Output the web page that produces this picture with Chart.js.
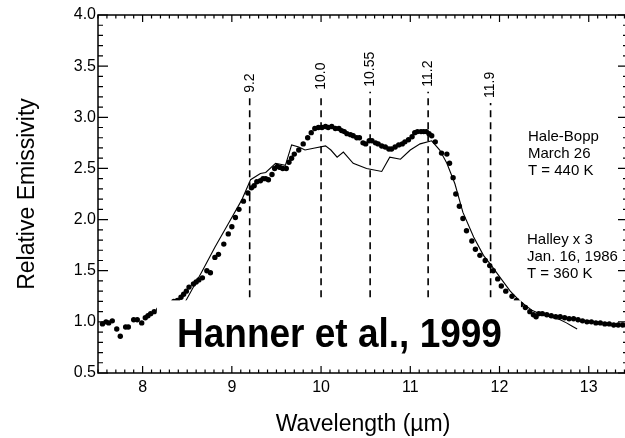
<!DOCTYPE html>
<html>
<head>
<meta charset="utf-8">
<script src="https://cdn.jsdelivr.net/npm/chart.js@4"></script>
<style>
html, body { margin: 0; padding: 0; background: #fff; overflow: hidden; }
canvas { display: block; }
</style>
</head>
<body>
<canvas id="chart" width="640" height="438"></canvas>
<script>
// Hale-Bopp (dots)
const haleBoppX = [7.55, 7.59, 7.62, 7.66, 7.71, 7.75, 7.81, 7.84, 7.90, 7.94, 7.99, 8.03, 8.06, 8.09, 8.13,
    8.18, 8.24, 8.30, 8.35, 8.39, 8.43, 8.46, 8.49, 8.52, 8.57, 8.60, 8.63, 8.67, 8.72, 8.76, 8.81, 8.85,
    8.91, 8.96, 9.00, 9.04, 9.08, 9.13, 9.18, 9.22, 9.25, 9.28, 9.32, 9.35, 9.38, 9.41, 9.45, 9.48, 9.51,
    9.54, 9.57, 9.61, 9.64, 9.67, 9.70, 9.75, 9.80, 9.85, 9.89, 9.93, 9.97, 10.01, 10.05, 10.08, 10.12,
    10.16, 10.20, 10.23, 10.26, 10.29, 10.33, 10.36, 10.40, 10.43, 10.47, 10.50, 10.54, 10.57, 10.61,
    10.64, 10.68, 10.72, 10.76, 10.79, 10.83, 10.87, 10.91, 10.94, 10.98, 11.02, 11.05, 11.08, 11.12,
    11.15, 11.18, 11.21, 11.24, 11.28, 11.35, 11.41, 11.44, 11.48, 11.51, 11.55, 11.59, 11.63, 11.69,
    11.73, 11.78, 11.84, 11.89, 11.93, 11.98, 12.02, 12.07, 12.14, 12.19, 12.24, 12.29, 12.34, 12.38,
    12.41, 12.44, 12.48, 12.53, 12.58, 12.63, 12.68, 12.73, 12.78, 12.83, 12.88, 12.93, 12.98, 13.03,
    13.08, 13.13, 13.18, 13.23, 13.28, 13.33, 13.38, 13.43];
const haleBoppY = [0.98, 1.00, 0.99, 1.01, 0.93, 0.86, 0.95, 0.95, 1.02, 1.02, 0.99, 1.04, 1.06, 1.08, 1.10,
    1.12, 1.15, 1.17, 1.20, 1.21, 1.24, 1.27, 1.30, 1.34, 1.37, 1.39, 1.41, 1.43, 1.50, 1.48, 1.63, 1.66,
    1.76, 1.86, 1.93, 2.02, 2.10, 2.18, 2.26, 2.31, 2.33, 2.37, 2.38, 2.40, 2.40, 2.39, 2.44, 2.50, 2.52,
    2.51, 2.50, 2.50, 2.56, 2.60, 2.64, 2.68, 2.74, 2.80, 2.85, 2.89, 2.90, 2.90, 2.91, 2.90, 2.91,
    2.89, 2.89, 2.87, 2.86, 2.84, 2.83, 2.82, 2.80, 2.80, 2.75, 2.74, 2.77, 2.77, 2.75,
    2.74, 2.72, 2.71, 2.69, 2.69, 2.71, 2.73, 2.74, 2.76, 2.78, 2.81, 2.85, 2.86, 2.86,
    2.86, 2.86, 2.84, 2.82, 2.76, 2.65, 2.64, 2.55, 2.41, 2.25, 2.13, 2.01, 1.89, 1.79,
    1.71, 1.65, 1.60, 1.55, 1.50, 1.42, 1.35, 1.30, 1.25, 1.21, 1.17, 1.14, 1.10, 1.07,
    1.05, 1.08, 1.08, 1.07, 1.06, 1.05, 1.05, 1.04, 1.03, 1.03, 1.02, 1.01, 1.00, 1.00,
    0.99, 0.99, 0.98, 0.98, 0.97, 0.97, 0.97, 0.96];

// Halley x 3 (thin line)
const halleyX = [8.45, 8.48, 8.67, 8.81, 8.96, 9.11, 9.21, 9.32, 9.38, 9.49, 9.60, 9.67, 9.75, 9.82, 9.93,
    10.05, 10.11, 10.18, 10.25, 10.36, 10.51, 10.68, 10.77, 10.89, 11.00, 11.11, 11.24, 11.33, 11.41,
    11.50, 11.59, 11.71, 11.82, 11.91, 12.01, 12.12, 12.21, 12.29, 12.37, 12.45, 12.52, 12.60, 12.68,
    12.75, 12.81, 12.87];
const halleyY = [1.17, 1.20, 1.50, 1.73, 1.96, 2.19, 2.39, 2.45, 2.46, 2.55, 2.53, 2.73, 2.71, 2.68, 2.70,
    2.72, 2.68, 2.61, 2.66, 2.55, 2.50, 2.47, 2.61, 2.59, 2.68, 2.74, 2.77, 2.68, 2.55,
    2.35, 2.07, 1.83, 1.65, 1.55, 1.43, 1.30, 1.22, 1.16, 1.11, 1.08, 1.06, 1.04, 1.02,
    0.99, 0.96, 0.93];

// dashed feature markers
const featureX = [9.2, 10.0, 10.55, 11.2, 11.9];
const featureLabels = ['9.2', '10.0', '10.55', '11.2', '11.9'];
const featureTop = [3.19, 3.22, 3.25, 3.25, 3.14];
const featureBottom = 1.24;

const xTicks = [8, 9, 10, 11, 12, 13];
const yTicks = [0.5, 1.0, 1.5, 2.0, 2.5, 3.0, 3.5, 4.0];

const haleBoppText = ['Hale-Bopp', 'March 26', 'T = 440 K'];
const halleyText = ['Halley x 3', 'Jan. 16, 1986', 'T = 360 K'];
const citation = 'Hanner et al., 1999';

const FONT = "'Liberation Sans', Arial, Helvetica, sans-serif";

const datasets = [
    {
        label: 'Hale-Bopp',
        data: haleBoppX.map((x, i) => ({ x: x, y: haleBoppY[i] })),
        showLine: false,
        pointRadius: 2.7,
        pointBackgroundColor: '#000',
        pointBorderWidth: 0
    },
    {
        label: 'Halley x 3',
        data: halleyX.map((x, i) => ({ x: x, y: halleyY[i] })),
        showLine: true,
        borderColor: '#000',
        borderWidth: 1.1,
        pointRadius: 0,
        tension: 0
    }
];
featureX.forEach((fx, i) => {
    datasets.push({
        label: featureLabels[i],
        data: [{ x: fx, y: featureBottom }, { x: fx, y: featureTop[i] }],
        showLine: true,
        borderColor: '#000',
        borderWidth: 1.6,
        borderDash: [7, 5],
        pointRadius: 0
    });
});

// frame, inward ticks, citation box and text notes
const decor = {
    id: 'decor',
    afterDatasetsDraw(chart) {
        const { ctx, chartArea: a, scales: { x, y } } = chart;
        ctx.save();

        // white box that hides the data behind the citation
        const bx0 = x.getPixelForValue(8.16), bx1 = x.getPixelForValue(12.24);
        const by0 = y.getPixelForValue(1.21), by1 = y.getPixelForValue(0.53);
        ctx.fillStyle = '#fff';
        ctx.fillRect(bx0, by0, bx1 - bx0, by1 - by0);

        // frame
        ctx.strokeStyle = '#000';
        ctx.lineWidth = 1.5;
        ctx.strokeRect(a.left, a.top, a.right - a.left, a.bottom - a.top);

        // x ticks (top and bottom)
        ctx.lineWidth = 1.2;
        ctx.beginPath();
        for (let k = 75; k <= 134; k++) {
            const px = x.getPixelForValue(k / 10);
            const len = k % 10 === 0 ? 7 : 3.5;
            ctx.moveTo(px, a.bottom); ctx.lineTo(px, a.bottom - len);
            ctx.moveTo(px, a.top); ctx.lineTo(px, a.top + len);
        }
        // y ticks (left and right)
        for (let k = 5; k <= 40; k++) {
            const py = y.getPixelForValue(k / 10);
            const len = k % 5 === 0 ? 10 : 5;
            ctx.moveTo(a.left, py); ctx.lineTo(a.left + len, py);
            ctx.moveTo(a.right, py); ctx.lineTo(a.right - len, py);
        }
        ctx.stroke();

        // feature labels, rotated
        ctx.fillStyle = '#000';
        ctx.font = '14px ' + FONT;
        ctx.textAlign = 'left';
        ctx.textBaseline = 'middle';
        featureX.forEach((fx, i) => {
            ctx.save();
            ctx.translate(x.getPixelForValue(fx), y.getPixelForValue(featureTop[i]) - 5);
            ctx.rotate(-Math.PI / 2);
            ctx.fillText(featureLabels[i], 0, 0);
            ctx.restore();
        });

        // comet notes
        ctx.font = '15px ' + FONT;
        haleBoppText.forEach((t, i) => ctx.fillText(t, 528, 137 + i * 17));
        halleyText.forEach((t, i) => ctx.fillText(t, 527, 240 + i * 16.7));

        // citation
        ctx.save();
        ctx.font = 'bold 40px ' + FONT;
        ctx.textBaseline = 'alphabetic';
        ctx.translate(177, 347);
        ctx.scale(0.925, 1);
        ctx.fillText(citation, 0, 0);
        ctx.restore();

        ctx.restore();
    }
};

new Chart(document.getElementById('chart'), {
    type: 'scatter',
    data: { datasets: datasets },
    options: {
        responsive: false,
        devicePixelRatio: 1,
        animation: false,
        layout: { padding: { left: 0, right: 12, top: 15, bottom: 0 } },
        plugins: { legend: { display: false }, tooltip: { enabled: false } },
        scales: {
            x: {
                type: 'linear',
                min: 7.5,
                max: 13.44,
                grid: { display: false, drawTicks: false },
                border: { display: false },
                afterBuildTicks: s => { s.ticks = xTicks.map(v => ({ value: v })); },
                afterFit: s => { s.height = 65; },
                ticks: {
                    color: '#000',
                    padding: 5,
                    font: { family: FONT, size: 16 },
                    callback: v => String(v)
                },
                title: {
                    display: true,
                    text: 'Wavelength (\u00b5m)',
                    color: '#000',
                    font: { family: FONT, size: 23 },
                    padding: { top: 0, bottom: 0 }
                }
            },
            y: {
                type: 'linear',
                min: 0.5,
                max: 4.0,
                grid: { display: false, drawTicks: false },
                border: { display: false },
                afterBuildTicks: s => { s.ticks = yTicks.map(v => ({ value: v })); },
                afterFit: s => { s.width = 98; },
                ticks: {
                    color: '#000',
                    padding: 2,
                    font: { family: FONT, size: 16 },
                    callback: v => v.toFixed(1)
                },
                title: {
                    display: true,
                    text: 'Relative Emissivity',
                    color: '#000',
                    font: { family: FONT, size: 23 },
                    padding: { top: 14, bottom: 0 }
                }
            }
        }
    },
    plugins: [decor]
});
</script>
</body>
</html>
